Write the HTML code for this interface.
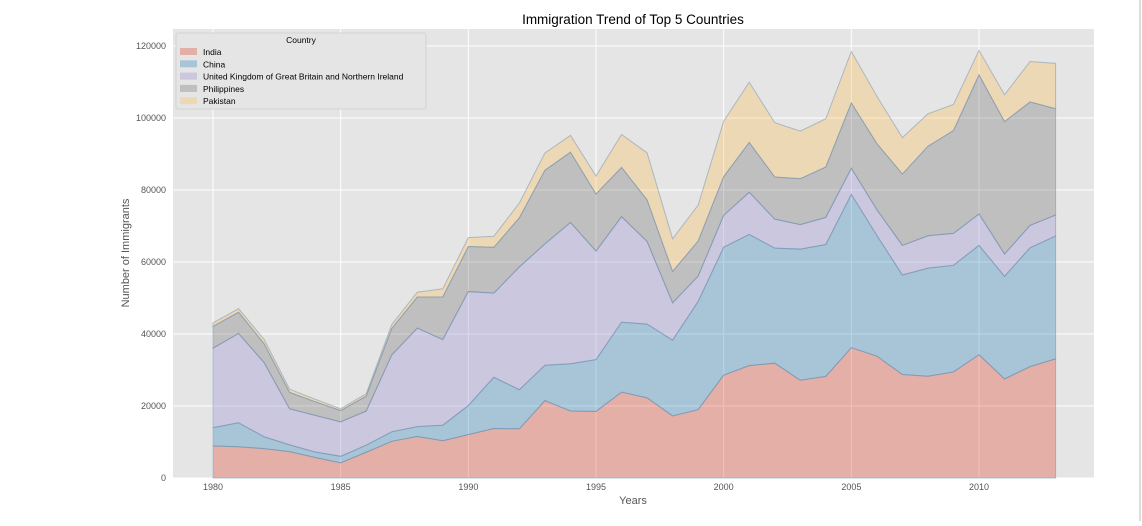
<!DOCTYPE html>
<html><head><meta charset="utf-8"><style>
body{margin:0;background:#fff;font-family:"Liberation Sans",sans-serif;}
svg text{font-family:"Liberation Sans",sans-serif;}
</style></head><body>
<svg id="chart" width="1142" height="521">
<rect x="0" y="0" width="1142" height="521" fill="#fff"/>
<line x1="1140" y1="0" x2="1140" y2="521" stroke="#ddd" stroke-width="2"/>
<text x="633" y="24" text-anchor="middle" font-size="13.5" fill="#000">Immigration Trend of Top 5 Countries</text>
<rect x="173" y="29" width="921" height="449" fill="#E5E5E5"/>
<g id="grid"></g><g id="areas"></g><g id="axes"></g>
<text x="633" y="504" text-anchor="middle" font-size="11" fill="#555">Years</text>
<text x="129" y="253" text-anchor="middle" font-size="11" fill="#555" transform="rotate(-90 129 253)">Number of Immigrants</text>
<g id="legend"></g>
</svg>
<script>
const years=[];for(let y=1980;y<=2013;y++)years.push(y);
const countries=["India","China","United Kingdom of Great Britain and Northern Ireland","Philippines","Pakistan"];
const india=[8880,8670,8147,7338,5704,4211,7150,10189,11522,10343,12041,13734,13673,21496,18620,18489,23859,22268,17241,18974,28572,31223,31889,27155,28235,36210,33848,28742,28261,29456,34235,27509,30933,33087];
const china=[5123,6682,3308,1863,1527,1816,1960,2643,2758,4323,8076,14255,10846,9817,13128,14398,19415,20475,21049,30069,35529,36434,31961,36439,36619,42584,33518,27642,30037,29622,30391,28502,33024,34129];
const uk=[22045,24796,20620,10015,10170,9564,9470,21337,27359,23795,31668,23380,34123,33720,39231,30145,29322,22965,10367,7045,8840,11728,8046,6797,7533,7258,7140,8216,8979,8876,8724,6204,6195,5827];
const philippines=[6051,5921,5249,4562,3801,3150,4166,7360,8639,11865,12509,12718,13670,20479,19532,15864,13692,11549,8735,9734,10763,13836,11707,12758,14004,18139,18400,19837,24887,28573,38617,36765,34315,29544];
const pakistan=[978,972,1201,900,668,514,691,1072,1334,2261,2470,3079,4071,4777,4666,4994,9125,13073,9068,9979,15400,16708,15110,13205,13399,14314,13127,10124,8994,7217,6811,7468,11227,12603];
const xTicks=[1980,1985,1990,1995,2000,2005,2010];
const yTicks=[0,20000,40000,60000,80000,100000,120000];
const colors=["#E24A33","#348ABD","#988ED5","#777777","#FBC15E"];
const series=[india,china,uk,philippines,pakistan];
const NS="http://www.w3.org/2000/svg";
const X=y=>213+(y-1980)*(979-213)/30;
const Y=v=>478-v*432/120000;
function mk(tag,attrs,parent){const e=document.createElementNS(NS,tag);for(const k in attrs)e.setAttribute(k,attrs[k]);parent.appendChild(e);return e;}
const grid=document.getElementById('grid'),axes=document.getElementById('axes'),areas=document.getElementById('areas'),leg=document.getElementById('legend');
xTicks.forEach(t=>{const l=mk('line',{x1:X(t),x2:X(t),y1:29,y2:478,stroke:'#fff','stroke-width':1},grid);


const tx=mk('text',{x:X(t),y:490,'text-anchor':'middle','font-size':9,fill:'#555'},axes);tx.textContent=t;

});
yTicks.forEach(t=>{const l=mk('line',{x1:173,x2:1094,y1:Y(t),y2:Y(t),stroke:'#fff','stroke-width':1},grid);


const tx=mk('text',{x:166,y:Y(t)+3,'text-anchor':'end','font-size':9,fill:'#555'},axes);tx.textContent=t;

});
let base=years.map(()=>0);
series.forEach((s,i)=>{const top=base.map((b,j)=>b+s[j]);
let d='M'+years.map((y,j)=>X(y)+','+Y(top[j])).join(' L');
for(let j=years.length-1;j>=0;j--)d+=' L'+X(years[j])+','+Y(base[j]);d+='Z';
const p=mk('path',{d:d,fill:colors[i],'fill-opacity':0.35,stroke:'#6f8fb0','stroke-opacity':0.5,'stroke-width':1},areas);


base=top;});
const lb=mk('rect',{x:176,y:33,width:250,height:76,fill:'#E5E5E5',stroke:'#ccc','stroke-width':0.8,rx:2},leg);


const lt=mk('text',{x:301,y:43,'text-anchor':'middle','font-size':8.5,fill:'#000'},leg);lt.textContent='Country';


countries.forEach((c,i)=>{const y=52+i*12.3;
const sw=mk('rect',{x:180,y:y-4,width:17,height:7,fill:colors[i],'fill-opacity':0.35},leg);


const t=mk('text',{x:203,y:y+3,'font-size':8.5,fill:'#000'},leg);t.textContent=c;

});
</script>
</body></html>
